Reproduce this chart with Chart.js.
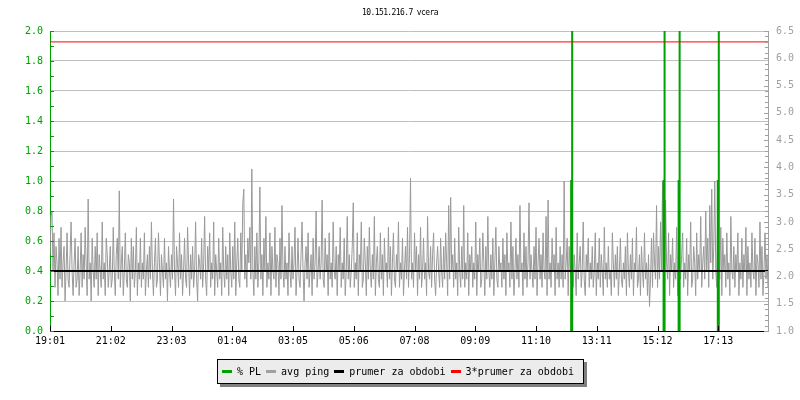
<!DOCTYPE html>
<html>
<head>
<meta charset="utf-8">
<script src="https://cdn.jsdelivr.net/npm/chart.js@4"></script>
<style>
    body { margin: 0; background: #ffffff; }
    #wrap { position: relative; width: 800px; height: 400px; }
    #title {
        position: absolute; top: 8px; left: 0; width: 800px; text-align: center;
        font: 8px "DejaVu Sans Mono", monospace; letter-spacing: -0.6px; color: #000;
    }
    #legend {
        position: absolute; left: 217px; top: 359px; width: 361px; height: 23px;
        background: #ececec; border: 1px solid #000; box-shadow: 3px 3px 0 #808080;
        font: 10px "DejaVu Sans Mono", monospace; color: #000;
        display: flex; align-items: center; padding-left: 4px; box-sizing: content-box;
    }
    #legend .sw { display: inline-block; width: 10px; height: 3px; margin-right: 5px; }
    #legend .txt { margin-right: 5px; white-space: pre; }
</style>
</head>
<body>
<div id="wrap">
    <div id="title">10.151.216.7 vcera</div>
    <canvas id="pingChart" width="800" height="400"></canvas>
    <div id="legend"></div>
</div>
<script>
// Libellés de l'axe du temps (minutes depuis 19:01)
const tickMinutes = [0, 121, 242, 363, 484, 605, 726, 847, 968, 1089, 1210, 1331];
const tickLabels = ['19:01', '21:02', '23:03', '01:04', '03:05', '05:06',
                    '07:08', '09:09', '11:10', '13:11', '15:12', '17:13'];

// avg ping (ms), un point toutes les 2 minutes (une ligne = une heure)
const pingStep = 2;
const pingValues = [
    2.4,3.1,3.2,2.1,2.8,1.8,2.55,2.25,1.65,2.7,1.95,2.9,1.8,2.25,2.55,1.55,2.1,2.8,1.95,1.8,2.4,3.0,2.1,1.65,2.25,2.7,1.8,1.95,2.55,1.65,
    2.1,2.8,1.8,2.4,1.95,2.9,2.25,1.65,3.42,1.95,2.25,1.55,2.7,2.1,1.8,2.55,1.95,2.8,1.65,2.4,2.1,1.8,3.0,1.95,2.25,1.65,2.7,2.4,1.8,2.1,
    2.55,1.8,1.95,2.9,2.1,1.65,2.4,2.7,1.95,3.57,1.8,2.25,2.55,1.65,2.1,2.8,1.95,1.8,2.4,2.25,1.55,2.7,1.95,2.55,1.8,2.1,2.9,1.65,2.25,1.95,
    2.7,1.8,2.25,1.95,2.8,1.65,2.1,2.4,1.8,2.55,1.95,3.0,2.1,1.65,2.25,2.7,1.8,1.95,2.8,2.25,1.65,2.4,2.1,1.8,2.7,1.95,2.25,1.55,2.55,2.1,
    1.8,2.4,1.95,3.42,2.1,1.65,2.55,2.25,1.8,2.8,1.95,2.4,1.65,2.1,2.7,1.95,1.8,2.9,2.25,1.65,2.4,1.95,2.55,1.8,2.1,3.0,1.95,1.55,2.4,2.25,
    1.95,2.7,1.8,2.25,3.1,1.95,1.65,2.55,2.1,2.8,1.8,2.25,1.95,3.0,1.65,2.4,2.1,1.8,2.7,1.95,2.25,1.65,2.9,2.1,1.8,2.55,1.95,2.4,1.65,2.8,
    2.1,1.8,2.55,1.95,3.0,1.65,2.25,2.7,1.95,1.8,2.8,2.1,3.35,3.6,1.95,2.4,1.8,2.7,2.25,2.9,1.95,3.97,2.1,1.65,2.55,1.95,2.8,1.8,2.25,3.64,
    1.95,2.4,1.65,2.7,2.1,3.1,1.8,2.25,1.95,2.8,1.65,2.55,2.1,1.95,2.9,1.8,2.4,2.25,1.65,2.7,1.95,3.3,2.1,1.8,2.55,1.95,2.25,1.65,2.8,2.1,
    1.8,2.55,1.95,2.25,2.9,1.65,2.1,2.7,1.95,1.8,2.4,3.0,2.1,1.55,2.25,2.55,1.95,2.8,1.8,2.1,2.4,1.65,2.7,1.95,2.25,3.2,1.8,2.1,2.55,1.95,
    2.25,3.4,1.95,1.8,2.7,2.1,2.4,1.65,2.8,1.95,2.25,1.8,3.0,2.1,1.95,2.55,1.65,2.4,2.1,2.9,1.8,2.25,1.95,2.7,1.65,2.1,3.1,1.95,2.4,1.8,
    2.1,2.55,3.35,1.8,2.25,1.95,2.8,1.65,2.4,2.1,3.0,1.8,1.95,2.7,2.25,1.65,2.55,1.95,2.9,2.1,1.8,2.4,1.95,3.1,1.65,2.25,2.55,1.95,1.8,2.8,
    1.95,2.4,1.65,2.7,2.1,2.25,1.8,2.9,1.95,2.55,1.65,2.25,2.8,1.95,1.8,2.4,2.1,3.0,1.8,2.25,1.95,2.7,1.65,2.1,2.55,1.95,2.9,1.8,2.4,3.8,
    1.95,2.25,1.8,2.8,2.1,2.55,1.65,2.4,1.95,2.9,1.8,2.1,2.7,1.95,2.25,1.65,3.1,2.1,1.95,2.55,1.8,2.4,2.8,1.95,1.65,2.25,2.55,2.1,1.8,2.7,
    2.1,1.8,2.55,1.95,2.8,2.25,1.65,3.3,1.95,3.45,2.1,2.4,1.8,2.7,1.95,2.25,1.65,2.9,2.1,1.8,2.55,1.95,3.3,1.8,2.25,1.95,2.8,1.65,2.4,2.1,
    2.55,1.8,2.25,1.95,3.0,1.65,2.4,2.1,2.7,1.8,1.95,2.8,2.25,1.65,2.55,1.95,3.1,2.1,1.8,2.4,1.95,2.7,1.65,2.25,2.9,1.95,1.8,2.55,2.1,2.25,
    1.8,2.7,1.95,2.4,1.65,2.8,2.1,2.25,1.8,3.0,1.95,2.55,1.65,2.1,2.7,1.95,2.4,1.8,3.3,2.1,2.25,1.65,2.8,1.95,2.55,1.8,2.25,3.35,1.95,2.4,
    2.1,1.8,2.55,1.95,2.9,1.65,2.25,2.7,1.95,2.4,1.8,2.8,2.1,1.95,3.1,1.65,3.4,1.95,2.25,1.8,2.7,2.1,2.4,1.65,2.9,1.95,2.25,1.8,2.55,1.95,
    2.4,1.8,3.75,1.95,2.25,2.7,1.65,2.55,2.1,1.95,2.9,1.8,2.4,2.1,1.65,2.8,1.95,2.25,2.55,1.8,2.1,3.0,1.95,1.65,2.4,2.1,2.7,1.8,2.25,1.95,
    2.55,1.8,2.1,2.8,1.65,2.25,1.95,2.7,1.8,2.4,2.1,1.65,2.9,1.95,2.25,1.8,2.55,1.95,2.1,1.65,2.8,2.25,1.8,2.4,1.95,2.55,1.65,2.1,2.7,1.95,
    1.8,2.25,1.95,2.55,1.65,2.8,2.1,1.8,2.4,1.95,2.7,1.65,2.25,2.1,2.9,1.8,1.95,2.4,1.65,2.55,2.1,1.8,2.8,1.95,2.25,1.65,2.4,1.45,1.95,2.7,
    1.8,2.8,2.25,1.95,3.3,1.8,2.55,1.95,3.0,2.1,3.75,1.95,1.8,3.4,2.25,1.95,2.8,1.65,2.4,2.1,2.7,1.8,2.25,1.95,2.9,1.65,2.55,2.1,1.95,2.4,
    2.8,1.8,2.25,1.95,2.7,1.65,2.4,2.1,3.0,1.8,1.95,2.55,2.25,1.65,2.8,1.95,2.4,2.1,3.1,1.8,2.25,2.55,1.95,3.2,2.1,2.7,1.8,3.3,2.25,3.6,
    1.95,2.55,3.75,2.1,1.8,3.4,2.25,1.95,2.9,1.65,2.7,2.1,2.4,1.8,2.8,1.95,2.25,1.65,3.1,2.1,1.95,2.55,1.8,2.4,2.1,2.8,1.65,2.25,1.95,2.7,
    1.8,2.4,2.1,2.9,1.65,2.55,1.95,2.25,1.8,2.8,2.1,1.95,2.7,1.65,2.4,2.25,1.8,3.0,1.95,2.55,1.65,2.1,2.8,1.95,2.4,1.8,2.25,2.7,1.95,2.55
];

// % PL : pics de perte de paquets (minute, palier, sommet)
const plMinutes = [1038, 1222, 1252, 1330];
const plLevels = [1.0, 1.0, 1.0, 1.0];
const plPeaks = [100, 100, 100, 100];

// moyennes
const meanPing = 2.1;
const mean3Ping = 6.3;

const xMax = 1430;
const colors = { pl: '#00a000', ping: '#a0a0a0', mean: '#000000', mean3: '#ff0000' };

// construire les points du ping
const pingData = pingValues.map((v, i) => ({ x: i * pingStep, y: v }));

// construire les points du % PL (les zéros ne sont pas tracés)
const plData = [];
plMinutes.forEach((m, i) => {
    plData.push({ x: m, y: 0 }, { x: m, y: plLevels[i] }, { x: m + 2, y: plLevels[i] },
                { x: m + 2, y: plPeaks[i] }, { x: m + 2, y: 0 }, { x: m + 3, y: null });
});

const monoFont = { family: 'DejaVu Sans Mono', size: 10 };

// petits traits de graduation dessinés vers l'intérieur
const innerTicks = {
    id: 'innerTicks',
    afterDatasetsDraw(chart) {
        const ctx = chart.ctx;
        const area = chart.chartArea;
        const sx = chart.scales.x, yl = chart.scales.y, yr = chart.scales.y2;
        ctx.save();
        ctx.lineWidth = 1;
        ctx.strokeStyle = colors.pl;
        for (let i = 0; i <= 20; i++) {
            const y = Math.round(yl.getPixelForValue(i / 10)) + 0.5;
            ctx.beginPath(); ctx.moveTo(area.left, y); ctx.lineTo(area.left + 4, y); ctx.stroke();
        }
        ctx.strokeStyle = colors.ping;
        for (let i = 10; i <= 65; i++) {
            const y = Math.round(yr.getPixelForValue(i / 10)) + 0.5;
            const len = i % 5 === 0 ? 4 : 3;
            ctx.beginPath(); ctx.moveTo(area.right - len, y); ctx.lineTo(area.right, y); ctx.stroke();
        }
        ctx.strokeStyle = '#000';
        tickMinutes.forEach(m => {
            const x = Math.round(sx.getPixelForValue(m)) + 0.5;
            ctx.beginPath(); ctx.moveTo(x, area.bottom); ctx.lineTo(x, area.bottom - 5); ctx.stroke();
        });
        ctx.restore();
    }
};

new Chart(document.getElementById('pingChart'), {
    type: 'line',
    data: {
        datasets: [
            { label: '% PL', data: plData, yAxisID: 'y', borderColor: colors.pl, borderWidth: 2,
              spanGaps: false, order: 2 },
            { label: 'avg ping', data: pingData, yAxisID: 'y2', borderColor: '#999999', borderWidth: 1,
              order: 3 },
            { label: 'prumer za obdobi', data: [{ x: 0, y: meanPing }, { x: xMax, y: meanPing }],
              yAxisID: 'y2', borderColor: colors.mean, borderWidth: 2, order: 1 },
            { label: '3*prumer za obdobi', data: [{ x: 0, y: mean3Ping }, { x: xMax, y: mean3Ping }],
              yAxisID: 'y2', borderColor: colors.mean3, borderWidth: 1, order: 0 }
        ]
    },
    options: {
        responsive: false,
        animation: false,
        elements: { point: { radius: 0 }, line: { tension: 0 } },
        layout: { padding: { top: 31, bottom: 49, left: 0, right: 0 } },
        plugins: { legend: { display: false }, tooltip: { enabled: false } },
        scales: {
            x: {
                type: 'linear', min: 0, max: xMax,
                afterBuildTicks: scale => { scale.ticks = tickMinutes.map(v => ({ value: v })); },
                afterFit: scale => { scale.height = 20; },
                ticks: {
                    font: monoFont, color: '#000', padding: 4, maxRotation: 0, autoSkip: false,
                    callback: (v) => tickLabels[tickMinutes.indexOf(v)]
                },
                grid: { drawOnChartArea: false, drawTicks: false },
                border: { color: '#000' }
            },
            y: {
                position: 'left', min: 0, max: 2,
                afterFit: scale => { scale.width = 50; },
                ticks: { stepSize: 0.2, font: monoFont, color: colors.pl, padding: 7,
                         callback: v => Number(v).toFixed(1) },
                grid: { color: '#c0c0c0', drawTicks: false },
                border: { color: colors.pl }
            },
            y2: {
                position: 'right', min: 1, max: 6.5,
                afterFit: scale => { scale.width = 32; },
                ticks: { stepSize: 0.5, font: monoFont, color: colors.ping, padding: 8,
                         callback: v => Number(v).toFixed(1) },
                grid: { drawOnChartArea: false, drawTicks: false },
                border: { color: colors.ping }
            }
        }
    },
    plugins: [innerTicks]
});

// légende HTML sous le graphique
const legendItems = [
    ['% PL', colors.pl], ['avg ping', colors.ping],
    ['prumer za obdobi', colors.mean], ['3*prumer za obdobi', colors.mean3]
];
document.getElementById('legend').innerHTML = legendItems.map(([t, c]) =>
    `<span class="sw" style="background:${c}"></span><span class="txt">${t}</span>`).join('');
</script>
</body>
</html>
